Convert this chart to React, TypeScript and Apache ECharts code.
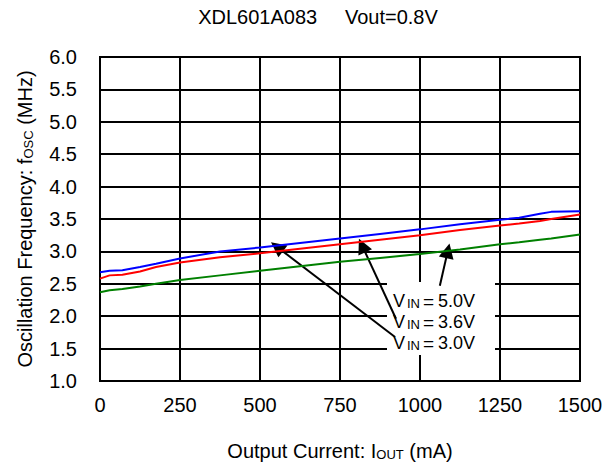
import React, { useEffect, useRef } from 'react';
import * as echarts from 'echarts';

const titleText = 'XDL601A083     Vout=0.8V';
const currentMA = [0, 30, 70, 125, 175, 250, 375, 500, 625, 750, 875, 1000, 1125, 1250, 1310, 1375, 1410, 1500];
const vin50 = [2.68, 2.70, 2.71, 2.76, 2.81, 2.89, 3.00, 3.06, 3.13, 3.20, 3.27, 3.34, 3.42, 3.49, 3.52, 3.58, 3.61, 3.62];
const vin36 = [2.58, 2.63, 2.64, 2.69, 2.76, 2.83, 2.91, 2.97, 3.04, 3.11, 3.18, 3.25, 3.33, 3.40, 3.43, 3.47, 3.50, 3.57];
const vin30 = [2.37, 2.40, 2.42, 2.46, 2.50, 2.56, 2.63, 2.70, 2.77, 2.84, 2.90, 2.96, 3.03, 3.11, 3.14, 3.18, 3.20, 3.26];
const seriesColors = ['#0000ff', '#ff0000', '#008000'];
const annotationLabels = ['5.0V', '3.6V', '3.0V'];
// arrow [from, to] in data coordinates
const arrowFrom = [[1062, 2.47], [925, 1.96], [922, 1.68]];
const arrowTo = [[1087, 3.01], [819, 3.09], [553, 3.07]];

const FONT = '"Liberation Sans", Arial, sans-serif';

export default function App() {
  const ref = useRef<HTMLDivElement>(null);
  useEffect(() => {
    if (!ref.current) return;
    const chart = echarts.init(ref.current, undefined, { renderer: 'svg' });
    const mk = (ys: number[]) => currentMA.map((x, i) => [x, ys[i]]);
    const textLines = annotationLabels.map((lab, i) => ({
      type: 'text',
      x: 393,
      y: 301 + i * 21,
      z: 10,
      style: {
        text: `{v|V}{s|IN}{e|=}{v|${lab}}`,
        verticalAlign: 'middle',
        fill: '#000',
        rich: {
          v: { fontSize: 18, lineHeight: 18, fontFamily: FONT, fill: '#000' },
          s: { fontSize: 13, lineHeight: 13, fontFamily: FONT, verticalAlign: 'bottom', padding: [0, 3, 0, 2], fill: '#000' },
          e: { fontSize: 19, lineHeight: 18, fontFamily: FONT, padding: [0, 4, 0, 0], fill: '#000' },
        },
      },
    }));
    chart.setOption({
      animation: false,
      backgroundColor: '#fff',
      grid: { left: 100, right: 34, top: 57, bottom: 88, show: true, borderColor: '#000', borderWidth: 2, backgroundColor: '#fff' },
      xAxis: {
        type: 'value', min: 0, max: 1500, interval: 250,
        axisLine: { lineStyle: { color: '#000', width: 2 } },
        axisTick: { show: false },
        splitLine: { show: true, lineStyle: { color: '#000', width: 2 } },
        axisLabel: { color: '#000', fontSize: 20, fontFamily: FONT, margin: 14, formatter: (v: number) => String(v) },
        name: 'Output Current: I{s|OUT} (mA)',
        nameLocation: 'middle', nameGap: 60,
        nameTextStyle: {
          color: '#000', fontSize: 20, fontFamily: FONT,
          rich: { s: { fontSize: 13, fontFamily: FONT, verticalAlign: 'bottom', color: '#000' } },
        },
      },
      yAxis: {
        type: 'value', min: 1, max: 6, interval: 0.5,
        axisLine: { show: true, lineStyle: { color: '#000', width: 2 } },
        axisTick: { show: false },
        splitLine: { show: true, lineStyle: { color: '#000', width: 2 } },
        axisLabel: { color: '#000', fontSize: 20, fontFamily: FONT, margin: 23, formatter: (v: number) => v.toFixed(1) },
        name: 'Oscillation Frequency: f{s|OSC} (MHz)',
        nameLocation: 'middle', nameGap: 65, nameRotate: 90,
        nameTextStyle: {
          color: '#000', fontSize: 20, fontFamily: FONT,
          rich: { s: { fontSize: 13, fontFamily: FONT, verticalAlign: 'bottom', color: '#000' } },
        },
      },
      graphic: [
        {
          type: 'text', x: 318, y: 17, z: 10,
          style: { text: titleText, fontSize: 20, fontFamily: FONT, fill: '#000', align: 'center', verticalAlign: 'middle' },
        },
        { type: 'rect', shape: { x: 387, y: 282, width: 108, height: 73 }, style: { fill: '#fff' }, z: 3 },
        ...textLines,
      ],
      series: [
        { type: 'line', data: mk(vin50), showSymbol: false, z: 5, lineStyle: { color: seriesColors[0], width: 2 }, itemStyle: { color: seriesColors[0] } },
        { type: 'line', data: mk(vin36), showSymbol: false, z: 5, lineStyle: { color: seriesColors[1], width: 2 }, itemStyle: { color: seriesColors[1] } },
        {
          type: 'line', data: mk(vin30), showSymbol: false, z: 5, lineStyle: { color: seriesColors[2], width: 2 }, itemStyle: { color: seriesColors[2] },
          markLine: {
            silent: true, animation: false,
            symbol: ['none', 'triangle'], symbolSize: 15,
            label: { show: false },
            lineStyle: { color: '#000', width: 2, type: 'solid' },
            itemStyle: { color: '#000' },
            data: arrowFrom.map((f, i) => [{ coord: f }, { coord: arrowTo[i] }]),
          },
        },
      ],
    });
    return () => chart.dispose();
  }, []);
  return <div ref={ref} style={{ position: 'fixed', left: 0, top: 0, width: 614, height: 469 }} />;
}
